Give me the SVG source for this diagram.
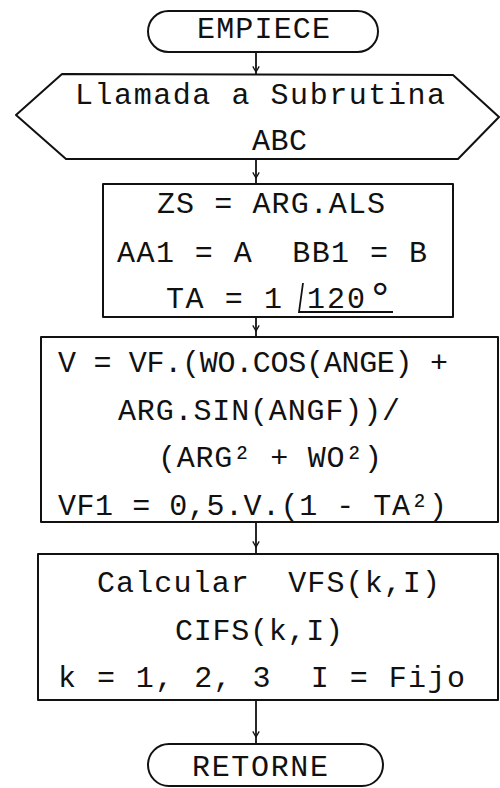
<svg xmlns="http://www.w3.org/2000/svg" width="500" height="788" viewBox="0 0 500 788">
  <style>
    .shape { fill: #ffffff; stroke: #111111; stroke-width: 2; stroke-linejoin: round; }
    .conn { stroke: #111111; stroke-width: 1.8; fill: none; }
    .t { font-family: "Liberation Mono", "Courier New", monospace; font-size: 30px; fill: #111111; white-space: pre; }
    .sym { stroke: #111111; stroke-width: 1.8; fill: none; }
  </style>
  <defs>
    <!-- open chevron head; x axis follows the line direction -->
    <marker id="arrow" viewBox="0 0 10 10" refX="9" refY="5" markerWidth="8" markerHeight="8" orient="auto" markerUnits="userSpaceOnUse">
      <path d="M2,1 L9,5 L2,9" fill="none" stroke="#111111" stroke-width="1.6"/>
    </marker>
  </defs>
  <rect width="500" height="788" fill="#ffffff"/>

  <!-- flow lines -->
  <g id="connectors">
    <line class="conn" x1="256" y1="52" x2="256" y2="72" marker-end="url(#arrow)"/>
    <line class="conn" x1="256" y1="72" x2="256" y2="75"/>
    <line class="conn" x1="256" y1="159" x2="256" y2="178" marker-end="url(#arrow)"/>
    <line class="conn" x1="256" y1="178" x2="256" y2="184"/>
    <line class="conn" x1="256" y1="317" x2="256" y2="331" marker-end="url(#arrow)"/>
    <line class="conn" x1="256" y1="331" x2="256" y2="337"/>
    <line class="conn" x1="256" y1="522" x2="256" y2="547" marker-end="url(#arrow)"/>
    <line class="conn" x1="256" y1="547" x2="256" y2="554"/>
    <line class="conn" x1="256" y1="700" x2="256" y2="737" marker-end="url(#arrow)"/>
    <line class="conn" x1="256" y1="737" x2="256" y2="744"/>
  </g>

  <!-- start terminal -->
  <g id="start">
    <rect class="shape" x="148" y="11" width="230" height="41" rx="20.5" ry="20.5"/>
    <text class="t" x="197" y="38" textLength="133" lengthAdjust="spacing">EMPIECE</text>
  </g>

  <!-- subroutine call -->
  <g id="call">
    <polygon class="shape" points="16,115 62,74 453,75 499,117 458,159 66,159"/>
    <text class="t" x="75" y="104" textLength="370" lengthAdjust="spacing">Llamada a Subrutina</text>
    <text class="t" x="252" y="150" textLength="55" lengthAdjust="spacing">ABC</text>
  </g>

  <!-- assignments -->
  <g id="assign">
    <rect class="shape" x="103" y="184" width="350" height="133"/>
    <text class="t" x="157" y="213" textLength="228" lengthAdjust="spacing">ZS = ARG.ALS</text>
    <text class="t" x="117" y="262" textLength="310" lengthAdjust="spacing" xml:space="preserve">AA1 = A  BB1 = B</text>
    <text class="t" x="166" y="308" textLength="116" lengthAdjust="spacing">TA = 1</text>
    <path class="sym" d="M303,283 L299,312 L393,312"/>
    <text class="t" x="307" y="308" textLength="58" lengthAdjust="spacing">120</text>
    <text class="t" x="367" y="312" style="font-size:44px">°</text>
  </g>

  <!-- voltage computation -->
  <g id="voltage">
    <rect class="shape" x="41" y="337" width="457" height="185"/>
    <text class="t" x="58" y="372" textLength="390" lengthAdjust="spacing">V = VF.(WO.COS(ANGE) +</text>
    <text class="t" x="118" y="420" textLength="282" lengthAdjust="spacing">ARG.SIN(ANGF))/</text>
    <text class="t" x="158" y="467" textLength="224" lengthAdjust="spacing">(ARG² + WO²)</text>
    <text class="t" x="58" y="515" textLength="389" lengthAdjust="spacing">VF1 = 0,5.V.(1 - TA²)</text>
  </g>

  <!-- phase quantities -->
  <g id="compute">
    <rect class="shape" x="38" y="554" width="460" height="146"/>
    <text class="t" x="97" y="592" textLength="343" lengthAdjust="spacing" xml:space="preserve">Calcular  VFS(k,I)</text>
    <text class="t" x="175" y="640" textLength="168" lengthAdjust="spacing">CIFS(k,I)</text>
    <text class="t" x="58" y="687" textLength="407" lengthAdjust="spacing" xml:space="preserve">k = 1, 2, 3  I = Fijo</text>
  </g>

  <!-- return terminal -->
  <g id="end">
    <rect class="shape" x="148" y="744" width="235" height="42" rx="21" ry="21"/>
    <text class="t" x="192" y="776" textLength="136" lengthAdjust="spacing">RETORNE</text>
  </g>
</svg>
